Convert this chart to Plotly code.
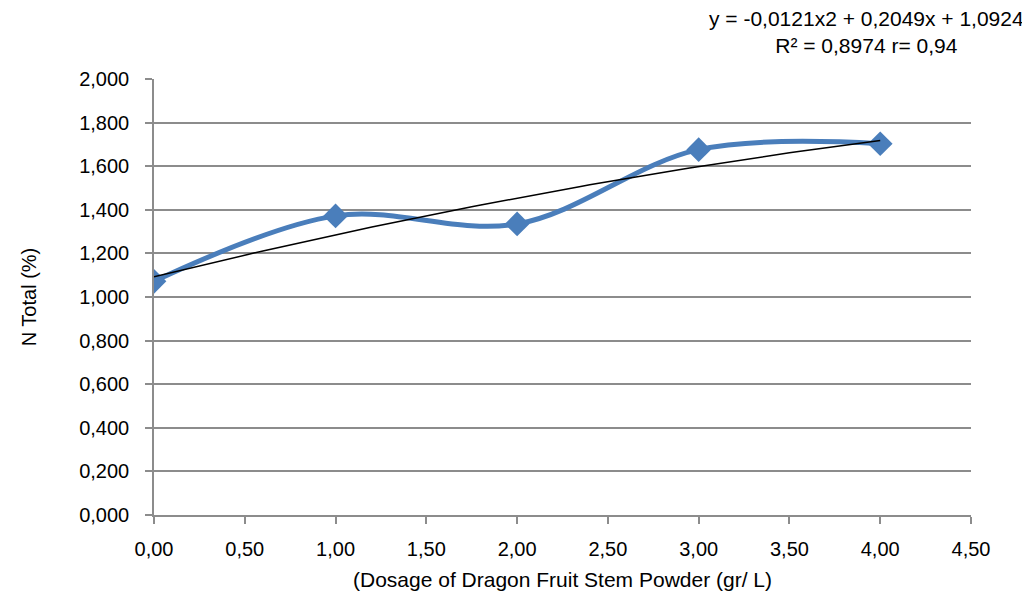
import numpy as np
import plotly.graph_objects as go

dosage = [0, 1, 2, 3, 4]
n_total = [1.072, 1.372, 1.335, 1.676, 1.703]
trend_coef = [-0.0121, 0.2049, 1.0924]  # from the chart's equation label
x_ticks = [0, 0.5, 1, 1.5, 2, 2.5, 3, 3.5, 4, 4.5]
y_ticks = [0, 0.2, 0.4, 0.6, 0.8, 1.0, 1.2, 1.4, 1.6, 1.8, 2.0]

tx = np.linspace(min(dosage), max(dosage), 81)
ty = np.polyval(trend_coef, tx)

grid = "#8c8c8c"
font = "Liberation Sans, Arial, sans-serif"

# the page has an 8px body offset; target plot area (page px): x 154..971, y 79..515
off = 8
L, R, T, B = 154 - off, 971 - off, 79 - off, 515 - off
W, H = 1030, 594

fig = go.Figure()
fig.add_trace(go.Scatter(
    x=dosage, y=n_total, mode="lines+markers",
    line=dict(color="#4a7ebb", width=5, shape="spline", smoothing=1.0),
    marker=dict(symbol="diamond", size=19, color="#4a7ebb"),
    showlegend=False,
))
fig.add_trace(go.Scatter(
    x=tx, y=ty, mode="lines",
    line=dict(color="black", width=1.5),
    showlegend=False,
))

fig.update_layout(
    width=W, height=H,
    margin=dict(l=L, r=W - R, t=T, b=H - B),
    paper_bgcolor="white", plot_bgcolor="white",
    separators=",.",
    font=dict(family=font, size=20, color="#000000"),
    xaxis=dict(
        range=[0, 4.5], tickvals=x_ticks, tickformat=".2f",
        showgrid=False, zeroline=False,
        showline=True, linecolor=grid, linewidth=1.5,
        ticks="outside", ticklen=7, tickcolor=grid, tickwidth=1.5,
        tickfont=dict(size=20), ticklabelstandoff=8,
        title=dict(text="(Dosage of Dragon Fruit Stem Powder (gr/ L)", font=dict(size=21), standoff=14),
    ),
    yaxis=dict(
        range=[0, 2.0], tickvals=y_ticks, tickformat=".3f",
        showgrid=True, gridcolor=grid, gridwidth=1.5, zeroline=False,
        showline=True, linecolor=grid, linewidth=1.5,
        ticks="outside", ticklen=7, tickcolor=grid, tickwidth=1.5,
        tickfont=dict(size=20), ticklabelstandoff=12,
        title=dict(text="N Total (%)", font=dict(size=20), standoff=37),
    ),
    annotations=[dict(
        x=(866 - off - L) / (R - L), y=(B - (32 - off)) / (B - T),
        xref="paper", yref="paper", showarrow=False,
        text="y = -0,0121x2 + 0,2049x + 1,0924<br>R² = 0,8974 r= 0,94",
        align="center", font=dict(size=21), xanchor="center", yanchor="middle",
    )],
)

fig.write_html("out.html")
